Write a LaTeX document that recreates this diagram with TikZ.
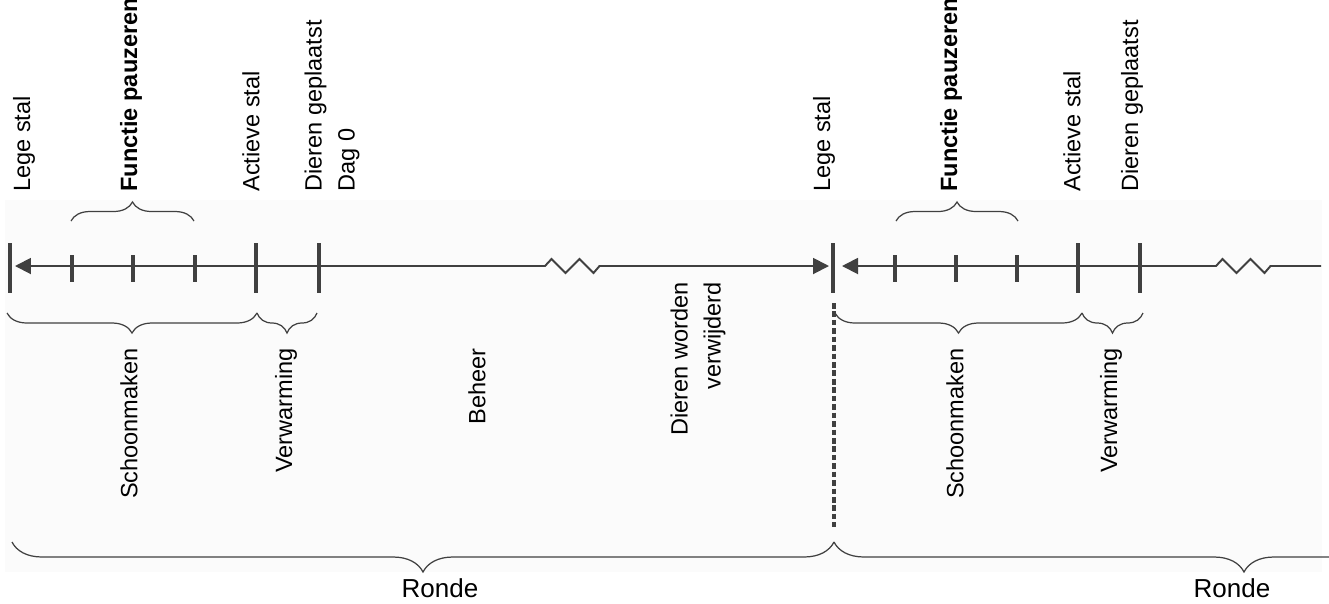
\documentclass[tikz,border=0pt]{standalone}
\usepackage{fontspec}
\setmainfont{Liberation Sans}
\usepackage{xcolor}
\usetikzlibrary{arrows.meta,decorations.pathreplacing}

\definecolor{linegray}{HTML}{404040}

\begin{document}
\begin{tikzpicture}[
  x=0.02cm, y=-0.02cm,
  lbl/.style={rotate=90, inner sep=0pt, font=\fontsize{13.4}{18.8}\selectfont},
  toplbl/.style={lbl, anchor=west, align=left},
  botlbl/.style={lbl, anchor=east, align=right},
  rondelbl/.style={inner sep=0pt, font=\fontsize{14.8}{17}\selectfont},
  axisline/.style={draw=linegray, line width=1.1pt},
  arr/.style={axisline, {Triangle[length=0.32cm, width=0.32cm]}-{Triangle[length=0.32cm, width=0.32cm]}},
  larr/.style={axisline, {Triangle[length=0.32cm, width=0.32cm]}-},
  bigtick/.style={draw=linegray, line width=2.2pt},
  smalltick/.style={draw=linegray, line width=1.9pt},
  brc/.style={draw=linegray, line width=0.7pt, decorate,
    decoration={brace, amplitude=#1, aspect=0.5}},
  splitline/.style={draw=linegray, line width=2pt, dash pattern=on 3.2pt off 1.6pt},
]
\useasboundingbox (0,0) rectangle (1329,603);
\clip (0,0) rectangle (1329,603);
\fill[black!1.5] (5,200) rectangle (1322,572);

% ===== ROUND 1 =====
\coordinate (a1) at (15,266);
\coordinate (z1) at (545,266);
\coordinate (b1) at (829,266);
\draw[arr] (a1) -- (z1) -- ++(6.5,-7) -- ++(14,14) -- ++(14,-14) -- ++(14,14) -- ++(6,-7) -- (b1);

\draw[bigtick] (10,243) -- (10,293);
\draw[smalltick] (72,255) -- (72,282);
\draw[smalltick] (133,255) -- (133,282);
\draw[smalltick] (195,255) -- (195,282);
\draw[bigtick] (256,243) -- (256,293);
\draw[bigtick] (319,243) -- (319,293);

\node[toplbl] (lege1) at (24,192) {Lege stal};
\node[toplbl, font=\fontsize{13.4}{18.8}\selectfont\bfseries] (func1) at (131,192) {Functie pauzeren};
\node[toplbl] (act1) at (251,192) {Actieve stal};
\node[toplbl] (plaats1) at (332,192) {Dieren geplaatst\\Dag 0};

\draw[brc=0.38cm] (71,221) -- (194,221);
\draw[brc=0.4cm] (257,313) -- (7,313);
\draw[brc=0.4cm] (317,313) -- (257,313);

\node[botlbl] (schoon1) at (129,348) {Schoonmaken};
\node[botlbl] (verw1) at (286,348) {Verwarming};
\node[botlbl] (beheer1) at (477,348) {Beheer};
\node[botlbl] (weg1) at (698,282) {Dieren worden\\verwijderd};

\draw[brc=0.6cm] (834,542) -- (12,542);
\node[rondelbl] (ronde1) at (440,588) {Ronde};

% ===== ROUND 2 =====
\draw[bigtick] (833,243) -- (833,293);
\coordinate (s1) at (834,303);
\coordinate (s2) at (834,527);
\draw[splitline] (s1) -- (s2);

\coordinate (a2) at (842,266);
\coordinate (z2) at (1216,266);
\coordinate (b2) at (1321,266);
\draw[larr] (a2) -- (z2) -- ++(6.5,-7) -- ++(14,14) -- ++(14,-14) -- ++(14,14) -- ++(6,-7) -- (b2);

\draw[smalltick] (895,255) -- (895,282);
\draw[smalltick] (956,255) -- (956,282);
\draw[smalltick] (1017,255) -- (1017,282);
\draw[bigtick] (1078,243) -- (1078,293);
\draw[bigtick] (1140,243) -- (1140,293);

\node[toplbl] (lege2) at (824,192) {Lege stal};
\node[toplbl, font=\fontsize{13.4}{18.8}\selectfont\bfseries] (func2) at (951,192) {Functie pauzeren};
\node[toplbl] (act2) at (1072,192) {Actieve stal};
\node[toplbl] (plaats2) at (1132,192) {Dieren geplaatst};

\draw[brc=0.38cm] (896,221) -- (1018,221);
\draw[brc=0.4cm] (1082,313) -- (835,313);
\draw[brc=0.4cm] (1143,313) -- (1082,313);

\node[botlbl] (schoon2) at (955,348) {Schoonmaken};
\node[botlbl] (verw2) at (1111,348) {Verwarming};

\draw[brc=0.6cm] (1654,542) -- (834,542);
\node[rondelbl] (ronde2) at (1232,588) {Ronde};

\end{tikzpicture}
\end{document}
